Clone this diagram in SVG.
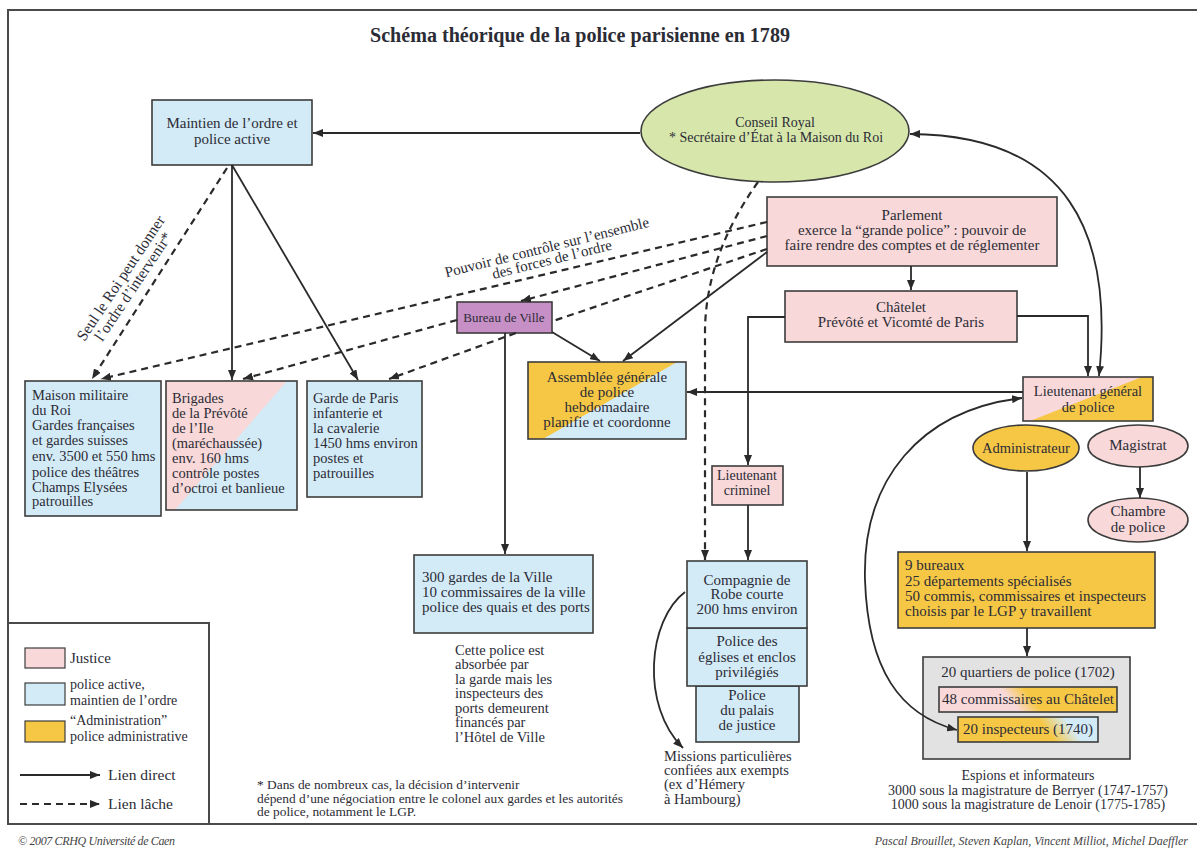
<svg xmlns="http://www.w3.org/2000/svg" width="1197" height="850" viewBox="0 0 1197 850">
<style>
.t{font-family:"Liberation Serif","Times New Roman",serif;font-size:15px;fill:#2c2c36}
.c{text-anchor:middle}
.s13{font-size:13px}
.s14{font-size:14px}
.s145{font-size:14.5px}
.fn{font-size:13.4px}
.it{font-style:italic;font-size:12px;fill:#444}
.bx{stroke:#3c3c3c;stroke-width:1.6}
.nf{fill:none}
.blue{fill:#d3ebf7}
.pink{fill:#f8d8d8}
.yellow{fill:#f6c744}
.green{fill:#d7e7ab}
.purple{fill:#c68fc6}
.gray{fill:#e2e2e2}
.ln{stroke:#2a2a2a;stroke-width:1.8;fill:none}
.dl{stroke-dasharray:7 5;stroke-width:2.2}
.frame{stroke:#4a4a4a;stroke-width:2;fill:none}
</style>
<defs>
<marker id="ah" viewBox="0 0 10 8" refX="10" refY="4" markerWidth="10" markerHeight="8" markerUnits="userSpaceOnUse" orient="auto-start-reverse">
<path d="M0,0 L10,4 L0,8 z" fill="#2a2a2a"/>
</marker>
<linearGradient id="g48" gradientUnits="userSpaceOnUse" x1="990" y1="712" x2="1030" y2="680">
<stop offset="0" stop-color="#f8d8d8"/><stop offset="0.45" stop-color="#f8d8d8"/><stop offset="0.8" stop-color="#f6c744"/><stop offset="1" stop-color="#f6c744"/>
</linearGradient>
<linearGradient id="g20" gradientUnits="userSpaceOnUse" x1="1030" y1="742" x2="1070" y2="712">
<stop offset="0" stop-color="#f6c744"/><stop offset="0.4" stop-color="#f6c744"/><stop offset="0.85" stop-color="#d3ebf7"/><stop offset="1" stop-color="#d3ebf7"/>
</linearGradient>
</defs>
<rect x="0" y="0" width="1197" height="850" fill="#ffffff"/>
<path class="frame" d="M1197 10 H8 V824 H1197"/>
<text class="t c" x="580" y="42" style="font-size:20px;font-weight:bold" textLength="420" lengthAdjust="spacingAndGlyphs">Schéma théorique de la police parisienne en 1789</text>

<g id="n-maintien">
<rect class="bx blue" x="152" y="100" width="160" height="65"/>
<text class="t c" x="232" y="128">Maintien de l’ordre et</text>
<text class="t c" x="232" y="144">police active</text>
</g>

<g id="n-conseil">
<ellipse class="bx green" cx="775" cy="131" rx="134" ry="51"/>
<text class="t c s14" x="775" y="127">Conseil Royal</text>
<text class="t c s14" x="776" y="142">* Secrétaire d’État à la Maison du Roi</text>
</g>

<g id="n-parlement">
<rect class="bx pink" x="767" y="197" width="290" height="69"/>
<text class="t c" x="912" y="220">Parlement</text>
<text class="t c" x="912" y="235">exerce la “grande police” : pouvoir de</text>
<text class="t c" x="912" y="250">faire rendre des comptes et de réglementer</text>
</g>

<g id="n-chatelet">
<rect class="bx pink" x="785" y="291" width="232" height="51"/>
<text class="t c" x="901" y="312">Châtelet</text>
<text class="t c" x="901" y="327">Prévôté et Vicomté de Paris</text>
</g>

<g id="n-bureau">
<rect class="bx purple" x="457" y="302" width="95" height="31"/>
<text class="t c s13" x="504" y="322">Bureau de Ville</text>
</g>

<g id="n-assemblee">
<rect class="blue" x="528" y="362" width="158" height="77"/>
<polygon class="yellow" points="528,362 677,362 543,439 528,439"/>
<rect class="bx nf" x="528" y="362" width="158" height="77"/>
<text class="t c" x="607" y="382">Assemblée générale</text>
<text class="t c" x="607" y="397">de police</text>
<text class="t c" x="607" y="412">hebdomadaire</text>
<text class="t c" x="607" y="427">planifie et coordonne</text>
</g>

<g id="n-lgp">
<rect class="pink" x="1023" y="377" width="130" height="44"/>
<polygon class="yellow" points="1142,377 1153,377 1153,421 1030,421"/>
<rect class="bx nf" x="1023" y="377" width="130" height="44"/>
<text class="t c s145" x="1088" y="396">Lieutenant général</text>
<text class="t c s145" x="1088" y="412">de police</text>
</g>

<g id="n-ltcrim">
<rect class="bx pink" x="712" y="466" width="71" height="39"/>
<text class="t c s14" x="747" y="480">Lieutenant</text>
<text class="t c s14" x="747" y="495">criminel</text>
</g>

<g id="n-compagnie">
<rect class="bx blue" x="696" y="686" width="103" height="56"/>
<rect class="bx blue" x="687" y="628" width="120" height="58"/>
<rect class="bx blue" x="687" y="561" width="120" height="67"/>
<text class="t c" x="747" y="585">Compagnie de</text>
<text class="t c" x="747" y="599">Robe courte</text>
<text class="t c" x="747" y="614">200 hms environ</text>
<text class="t c" x="747" y="646">Police des</text>
<text class="t c" x="747" y="662">églises et enclos</text>
<text class="t c" x="747" y="677">privilégiés</text>
<text class="t c" x="747" y="700">Police</text>
<text class="t c" x="747" y="715">du palais</text>
<text class="t c" x="747" y="730">de justice</text>
</g>

<g id="n-missions">
<text class="t s145" x="664" y="761">Missions particulières</text>
<text class="t s145" x="664" y="775">confiées aux exempts</text>
<text class="t s145" x="664" y="789">(ex d’Hémery</text>
<text class="t s145" x="664" y="804">à Hambourg)</text>
</g>

<g id="n-maison">
<rect class="bx blue" x="25" y="381" width="136" height="135"/>
<text class="t s145" x="32" y="400">Maison militaire</text>
<text class="t s145" x="32" y="415">du Roi</text>
<text class="t s145" x="32" y="430">Gardes françaises</text>
<text class="t s145" x="32" y="445">et gardes suisses</text>
<text class="t s145" x="32" y="461">env. 3500 et 550 hms</text>
<text class="t s145" x="32" y="477">police des théâtres</text>
<text class="t s145" x="32" y="492">Champs Elysées</text>
<text class="t s145" x="32" y="506">patrouilles</text>
</g>

<g id="n-brigades">
<rect class="blue" x="166" y="381" width="131" height="129"/>
<polygon class="pink" points="166,381 287,381 175,510 166,510"/>
<rect class="bx nf" x="166" y="381" width="131" height="129"/>
<text class="t s145" x="172" y="403">Brigades</text>
<text class="t s145" x="172" y="418">de la Prévôté</text>
<text class="t s145" x="172" y="433">de l’Ile</text>
<text class="t s145" x="172" y="448">(maréchaussée)</text>
<text class="t s145" x="172" y="463">env. 160 hms</text>
<text class="t s145" x="172" y="478">contrôle postes</text>
<text class="t s145" x="172" y="493">d’octroi et banlieue</text>
</g>

<g id="n-garde">
<rect class="bx blue" x="307" y="381" width="115" height="116"/>
<text class="t s145" x="313" y="403">Garde de Paris</text>
<text class="t s145" x="313" y="418">infanterie et</text>
<text class="t s145" x="313" y="433">la cavalerie</text>
<text class="t s145" x="313" y="448">1450 hms environ</text>
<text class="t s145" x="313" y="463">postes et</text>
<text class="t s145" x="313" y="478">patrouilles</text>
</g>

<g id="n-gardes-ville">
<rect class="bx blue" x="414" y="555" width="179" height="78"/>
<text class="t" x="422" y="582">300 gardes de la Ville</text>
<text class="t" x="422" y="597">10 commissaires de la ville</text>
<text class="t" x="422" y="612">police des quais et des ports</text>
</g>

<g id="n-note-ville">
<text class="t s145" x="455" y="655">Cette police est</text>
<text class="t s145" x="455" y="669">absorbée par</text>
<text class="t s145" x="455" y="684">la garde mais les</text>
<text class="t s145" x="455" y="698">inspecteurs des</text>
<text class="t s145" x="455" y="713">ports demeurent</text>
<text class="t s145" x="455" y="727">financés par</text>
<text class="t s145" x="455" y="742">l’Hôtel de Ville</text>
</g>

<g id="n-admin">
<ellipse class="bx yellow" cx="1026" cy="448" rx="53" ry="23"/>
<text class="t c s145" x="1026" y="453">Administrateur</text>
</g>

<g id="n-magistrat">
<ellipse class="bx pink" cx="1138" cy="446" rx="50" ry="21"/>
<text class="t c" x="1138" y="450">Magistrat</text>
</g>

<g id="n-chambre">
<ellipse class="bx pink" cx="1138" cy="520" rx="50" ry="22"/>
<text class="t c" x="1138" y="516">Chambre</text>
<text class="t c" x="1138" y="532">de police</text>
</g>

<g id="n-bureaux9">
<rect class="bx yellow" x="898" y="552" width="257" height="76"/>
<text class="t" x="905" y="570">9 bureaux</text>
<text class="t" x="905" y="586">25 départements spécialisés</text>
<text class="t" x="905" y="601">50 commis, commissaires et inspecteurs</text>
<text class="t" x="905" y="616">choisis par le LGP y travaillent</text>
</g>

<g id="n-quartiers">
<rect class="bx gray" x="923" y="657" width="207" height="102"/>
<text class="t c" x="1028" y="677">20 quartiers de police (1702)</text>
<rect class="bx" x="939" y="687" width="178" height="25" fill="url(#g48)"/>
<text class="t c" x="1028" y="704">48 commissaires au Châtelet</text>
<rect class="bx" x="958" y="717" width="140" height="25" fill="url(#g20)"/>
<text class="t c" x="1028" y="734">20 inspecteurs (1740)</text>
</g>

<g id="n-espions">
<text class="t c s14" x="1028" y="780">Espions et informateurs</text>
<text class="t c s14" x="1028" y="795">3000 sous la magistrature de Berryer (1747-1757)</text>
<text class="t c s14" x="1028" y="809">1000 sous la magistrature de Lenoir (1775-1785)</text>
</g>

<g id="legend">
<path class="frame" d="M8 623 H209 V824"/>
<rect class="bx pink" x="25" y="648" width="40" height="20" style="stroke-width:1.2"/>
<text class="t" x="70" y="663">Justice</text>
<rect class="bx blue" x="25" y="683" width="40" height="22" style="stroke-width:1.2"/>
<text class="t s14" x="70" y="689">police active,</text>
<text class="t s14" x="70" y="705">maintien de l’ordre</text>
<rect class="bx yellow" x="25" y="721" width="40" height="21" style="stroke-width:1.2"/>
<text class="t s14" x="70" y="725">“Administration”</text>
<text class="t s14" x="70" y="741">police administrative</text>
<path class="ln" d="M20 775 H100" marker-end="url(#ah)"/>
<text class="t" x="108" y="780" style="font-size:15.5px">Lien direct</text>
<path class="ln dl" d="M20 804 H100" marker-end="url(#ah)"/>
<text class="t" x="108" y="809" style="font-size:15.5px">Lien lâche</text>
</g>

<g id="footnote">
<text class="t fn" x="257" y="789">* Dans de nombreux cas, la décision d’intervenir</text>
<text class="t fn" x="257" y="803">dépend d’une négociation entre le colonel aux gardes et les autorités</text>
<text class="t fn" x="257" y="816">de police, notamment le LGP.</text>
</g>

<g id="credits">
<text class="t it" x="18" y="845" textLength="157" lengthAdjust="spacing">© 2007  CRHQ  Université de Caen</text>
<text class="t it" x="1188" y="845" text-anchor="end">Pascal Brouillet, Steven Kaplan, Vincent Milliot, Michel Daeffler</text>
</g>

<g id="connectors">
<path class="ln" d="M640 133 H313" marker-end="url(#ah)"/>
<path class="ln" d="M232 165 V380" marker-end="url(#ah)"/>
<path class="ln" d="M232 165 L358 380" marker-end="url(#ah)"/>
<path class="ln dl" d="M227 168 L92 379" marker-end="url(#ah)"/>
<path class="ln dl" d="M767 222 L101 379" marker-end="url(#ah)"/>
<path class="ln dl" d="M767 236 L521 301" marker-end="url(#ah)"/>
<path class="ln dl" d="M457 320 L243 379" marker-end="url(#ah)"/>
<path class="ln dl" d="M767 249 L553 321"/>
<path class="ln dl" d="M516 333 L389 379" marker-end="url(#ah)"/>
<path class="ln" d="M552 332 L600 361" marker-end="url(#ah)"/>
<path class="ln" d="M767 252 L623 361" marker-end="url(#ah)"/>
<path class="ln" d="M505 333 V554" marker-end="url(#ah)"/>
<path class="ln" d="M911 266 V290" marker-end="url(#ah)"/>
<path class="ln" d="M1017 316 H1088 V376" marker-end="url(#ah)"/>
<path class="ln" d="M910 134 C1068 135 1114 232 1099 376" marker-start="url(#ah)" marker-end="url(#ah)"/>
<path class="ln" d="M785 317 H748 V465" marker-end="url(#ah)"/>
<path class="ln" d="M1023 392 H687" marker-end="url(#ah)"/>
<path class="ln dl" d="M758 182 Q706 255 705 330 V560" marker-end="url(#ah)"/>
<path class="ln" d="M748 505 V560" marker-end="url(#ah)"/>
<path class="ln" d="M685 592 C648 620 640 705 683 748" marker-end="url(#ah)"/>
<path class="ln" d="M1027 472 V551" marker-end="url(#ah)"/>
<path class="ln" d="M1140 467 V498" marker-end="url(#ah)"/>
<path class="ln" d="M1027 628 V656" marker-end="url(#ah)"/>
<path class="ln" d="M1022 398 C920 410 862 480 865 580 C868 670 900 715 957 730" marker-start="url(#ah)" marker-end="url(#ah)"/>
<g transform="translate(125 281) rotate(-56.4)">
<text class="t c" x="0" y="0" style="font-size:15.5px">Seul le Roi peut donner</text>
<text class="t c" x="0" y="15" style="font-size:15.5px">l’ordre d’intervenir*</text>
</g>
<g transform="translate(548 252) rotate(-14)">
<text class="t c" x="0" y="0">Pouvoir de contrôle sur l’ensemble</text>
<text class="t c" x="2" y="13">des forces de l’ordre</text>
</g>
</g>
</svg>
